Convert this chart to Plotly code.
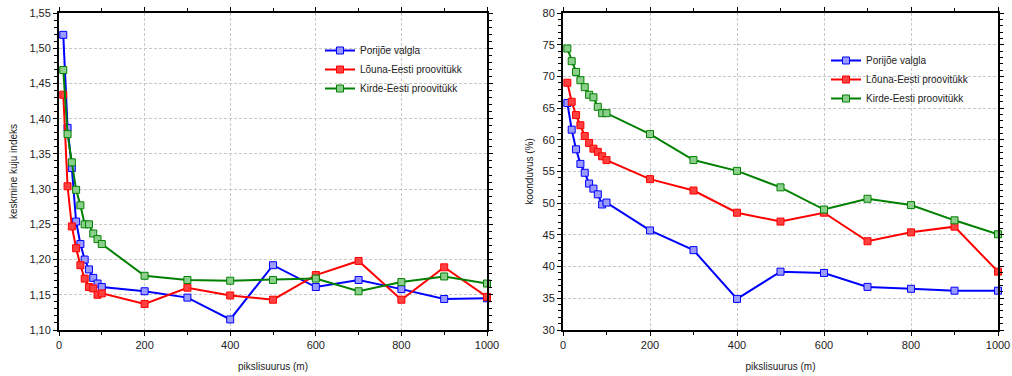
import plotly.graph_objects as go

# Pixel size (m)
pixel_size = [10, 20, 30, 40, 50, 60, 70, 80, 90, 100,
              200, 300, 400, 500, 600, 700, 800, 900, 1000]

# Mean shape index
shape_porijoe = [1.519, 1.387, 1.330, 1.254, 1.222, 1.200, 1.186, 1.174, 1.166, 1.161,
                 1.155, 1.146, 1.115, 1.192, 1.161, 1.171, 1.158, 1.144, 1.145]
shape_louna = [1.434, 1.304, 1.247, 1.216, 1.192, 1.173, 1.161, 1.159, 1.150, 1.152,
               1.137, 1.160, 1.149, 1.143, 1.178, 1.198, 1.143, 1.189, 1.147]
shape_kirde = [1.469, 1.378, 1.338, 1.299, 1.277, 1.250, 1.250, 1.237, 1.229, 1.222,
               1.177, 1.171, 1.170, 1.171, 1.173, 1.155, 1.168, 1.176, 1.166]

# Contagion (%)
contag_porijoe = [65.8, 61.6, 58.5, 56.2, 54.8, 53.1, 52.3, 51.4, 49.8, 50.1,
                  45.7, 42.6, 34.9, 39.2, 39.0, 36.8, 36.5, 36.2, 36.2]
contag_louna = [69.0, 66.0, 63.9, 62.3, 60.6, 59.5, 58.6, 58.1, 57.4, 56.8,
                53.8, 52.0, 48.5, 47.1, 48.5, 44.0, 45.4, 46.3, 39.2]
contag_kirde = [74.4, 72.4, 70.7, 69.4, 68.3, 67.1, 66.7, 65.2, 64.2, 64.2,
                60.9, 56.8, 55.1, 52.5, 49.0, 50.7, 49.7, 47.3, 45.1]

series_names = ["Porijõe valgla", "Lõuna-Eesti proovitükk", "Kirde-Eesti proovitükk"]
line_colors = ["#0000ff", "#ff0000", "#008000"]
marker_fills = ["#9a9aff", "#ff4040", "#8ccf8c"]

left_yticks = [1.10, 1.15, 1.20, 1.25, 1.30, 1.35, 1.40, 1.45, 1.50, 1.55]
left_yticktext = ["1,10", "1,15", "1,20", "1,25", "1,30", "1,35", "1,40", "1,45", "1,50", "1,55"]
right_yticks = [30, 35, 40, 45, 50, 55, 60, 65, 70, 75, 80]
xticks = [0, 200, 400, 600, 800, 1000]

W, H = 1012, 376
FONT = "Liberation Sans, Arial, sans-serif"

fig = go.Figure()

left_data = [shape_porijoe, shape_louna, shape_kirde]
right_data = [contag_porijoe, contag_louna, contag_kirde]

for i, name in enumerate(series_names):
    marker = dict(symbol="square", size=7, color=marker_fills[i],
                  line=dict(color=line_colors[i], width=1))
    fig.add_trace(go.Scatter(
        x=pixel_size, y=left_data[i], name=name, mode="lines+markers",
        line=dict(color=line_colors[i], width=2), marker=marker,
        xaxis="x", yaxis="y", legend="legend", cliponaxis=False))
    fig.add_trace(go.Scatter(
        x=pixel_size, y=right_data[i], name=name, mode="lines+markers",
        line=dict(color=line_colors[i], width=2), marker=marker,
        xaxis="x2", yaxis="y2", legend="legend2", cliponaxis=False))

grid_style = dict(showgrid=True, gridcolor="#c8c8c8", griddash="3px,2px", gridwidth=1)
axis_common = dict(showline=True, linecolor="black", linewidth=2, mirror="allticks",
                   ticks="outside", ticklen=4, tickwidth=1, tickcolor="black",
                   zeroline=False, automargin=False,
                   tickfont=dict(family=FONT, size=11, color="#222"),
                   **grid_style)

xaxis_common = dict(axis_common, range=[0, 1000], tickvals=xticks,
                    minor=dict(dtick=100, tick0=0, ticks="outside", ticklen=3,
                               tickcolor="black", showgrid=False),
                    title=dict(text="pikslisuurus (m)", standoff=13,
                               font=dict(family=FONT, size=10, color="#222")))

fig.update_layout(
    width=W, height=H,
    margin=dict(l=0, r=0, t=0, b=0),
    paper_bgcolor="white", plot_bgcolor="white",
    font=dict(family=FONT, size=10, color="#222"),
    xaxis=dict(xaxis_common, domain=[59 / W, 487 / W], anchor="y"),
    yaxis=dict(axis_common, domain=[1 - 330 / H, 1 - 13 / H], anchor="x",
               range=[1.10, 1.55], tickvals=left_yticks, ticktext=left_yticktext,
               minor=dict(dtick=0.01, tick0=1.10, ticks="outside", ticklen=3,
                          tickcolor="black", showgrid=False),
               title=dict(text="keskmine kuju indeks", standoff=10,
                          font=dict(family=FONT, size=10, color="#222"))),
    xaxis2=dict(xaxis_common, domain=[563 / W, 998 / W], anchor="y2"),
    yaxis2=dict(axis_common, domain=[1 - 330 / H, 1 - 13 / H], anchor="x2",
                range=[30, 80], tickvals=right_yticks,
                minor=dict(dtick=1, tick0=30, ticks="outside", ticklen=3,
                           tickcolor="black", showgrid=False),
                title=dict(text="koonduvus (%)", standoff=7,
                           font=dict(family=FONT, size=10, color="#222"))),
    legend=dict(x=320 / W, y=1 - 36 / H, xanchor="left", yanchor="top",
                bgcolor="rgba(0,0,0,0)", font=dict(family=FONT, size=10, color="#222"),
                itemwidth=30, tracegroupgap=0),
    legend2=dict(x=826 / W, y=1 - 46 / H, xanchor="left", yanchor="top",
                 bgcolor="rgba(0,0,0,0)", font=dict(family=FONT, size=10, color="#222"),
                 itemwidth=30, tracegroupgap=0),
)

fig.write_html("out.html")
